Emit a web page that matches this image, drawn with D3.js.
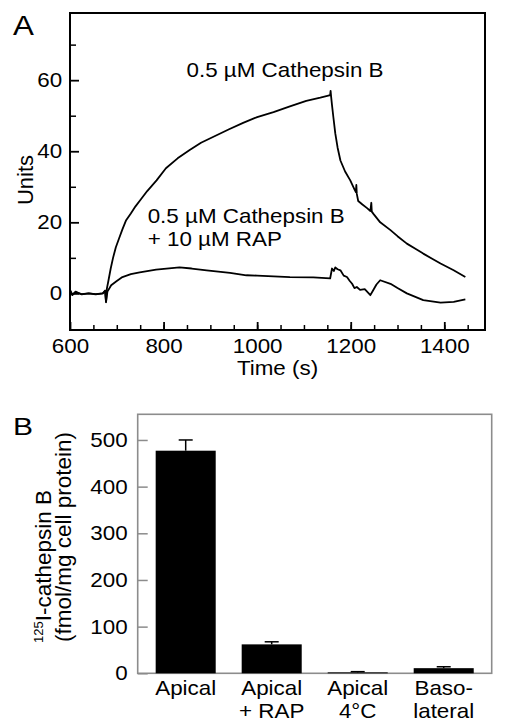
<!DOCTYPE html>
<html lang="en">
<head>
<meta charset="utf-8">
<title>Cathepsin B binding</title>
<style>
  body { margin: 0; background: #fff; }
  svg { display: block; font-family: "Liberation Sans", Arial, sans-serif; }
  .trace { fill: none; stroke: #000; stroke-width: 1.8px; stroke-linejoin: round; }
</style>
</head>
<body>
<svg width="508" height="721"></svg>
<script src="https://d3js.org/d3.v7.min.js"></script>
<script>

// panel A - sensor traces (time in s, response units)
var timeCath = [600, 605, 612, 625, 640, 655, 670, 675, 677, 679, 682, 687, 692, 698, 705, 712, 720, 730, 740, 750,
  765, 785, 805, 830, 855, 880, 910, 940, 970, 1000, 1035, 1070, 1105, 1135, 1150, 1156, 1157, 1158, 1160, 1163,
  1167, 1172, 1178, 1188, 1199, 1208, 1211, 1212, 1213, 1216, 1225, 1235, 1242, 1244, 1245, 1249, 1263, 1285, 1300,
  1320, 1340, 1355, 1375, 1392, 1420, 1445];
var unitsCath = [1.0, -0.5, 0.5, -0.3, 0, -0.2, 0, 0.8, -2.5, 1.5, 3.5, 7, 10, 13, 15.5, 18, 20.6, 22.5, 24.5, 26.2,
  28.8, 31.8, 35.2, 38, 40.3, 42.4, 44.3, 46.2, 48, 49.6, 51, 52.6, 54.2, 55.1, 55.6, 55.8, 57, 55.5, 53, 49.5,
  45, 41, 37.4, 34.3, 31.8, 29.3, 28.5, 30.5, 28, 26, 25, 24, 23.2, 25.5, 23, 22.3, 20, 17.8, 16.1,
  14, 12.4, 11.2, 9.7, 8.4, 6.5, 4.6];

var timeRap = [600, 605, 612, 625, 640, 655, 670, 675, 677, 680, 688, 700, 712, 730, 749, 784, 834, 860, 892, 942,
  977, 1000, 1035, 1070, 1120, 1156, 1160, 1164, 1167, 1172, 1178, 1185, 1192, 1198, 1203, 1208, 1213, 1220, 1230,
  1242, 1248, 1255, 1263, 1285, 1300, 1320, 1355, 1392, 1420, 1445];
var unitsRap = [0.8, -0.3, 0.3, -0.2, 0, -0.3, 0, 0.6, -2.4, 0.5, 2.3, 3.5, 4.6, 5.4, 5.9, 6.7, 7.3, 7.0, 6.5, 5.8,
  5.1, 5.0, 4.8, 4.6, 4.5, 4.2, 7.0, 6.3, 7.3, 6.8, 6.5, 5.0, 4.6, 3.5, 2.7, 1.5, 1.8, 1.0, 1.2,
  -0.5, 0.9, 2.5, 3.7, 2.7, 1.5, 0, -1.9, -2.6, -2.4, -1.7];

var xTicksA = [600, 800, 1000, 1200, 1400];
var xMinorA = d3.range(650, 1451, 50);
var yTicksA = [0, 20, 40, 60];
var yMinorA = [10, 30, 50, 70];

var noteLines = [["0.5 µM Cathepsin B"], ["0.5 µM Cathepsin B", "+ 10 µM RAP"]];
var noteTime = [849, 766];
var noteUnits = [61, 19.8];

// panel B - uptake
var groupTop = ["Apical", "Apical", "Apical", "Baso-"];
var groupBottom = ["", "+ RAP", "4°C", "lateral"];
var uptake = [477, 62, 2, 11];
var uptakeErr = [23, 5.5, 1.5, 3];
var yTicksB = [0, 100, 200, 300, 400, 500];

var svg = d3.select("svg");
var sx = 1.12;   // lettering in the figure is a bit wider than Arial

// ---------- A ----------
var xA = d3.scaleLinear().domain([600, 1487]).range([70, 485]),
    yA = d3.scaleLinear().domain([-10.3, 78.9]).range([330, 13]);

var gA = svg.append("g");

function styleAxis(g, size) {
  g.attr("font-family", null).attr("font-size", size);
  g.select(".domain").remove();
  g.selectAll("text").attr("fill", "#000");
}

gA.append("g")
    .attr("transform", "translate(0," + yA(-10.3) + ")")
    .call(d3.axisBottom(xA).tickValues(xMinorA).tickFormat("").tickSizeInner(-5).tickSizeOuter(0))
    .call(styleAxis, 20)
    .selectAll("line").attr("stroke", "#000").attr("stroke-width", 1.5);

gA.append("g")
    .attr("transform", "translate(0," + yA(-10.3) + ")")
    .call(d3.axisBottom(xA).tickValues(xTicksA).tickFormat(d3.format("d")).tickSizeInner(-8).tickSizeOuter(0).tickPadding(9))
    .call(styleAxis, 20)
    .call(function(g) {
      g.selectAll("line").attr("stroke", "#000").attr("stroke-width", 1.8);
      g.selectAll("text").attr("transform", "scale(" + sx + ",1)");
    });

gA.append("g")
    .attr("transform", "translate(" + xA(600) + ",0)")
    .call(d3.axisLeft(yA).tickValues(yMinorA).tickFormat("").tickSizeInner(-6).tickSizeOuter(0))
    .call(styleAxis, 20)
    .selectAll("line").attr("stroke", "#000").attr("stroke-width", 1.5);

gA.append("g")
    .attr("transform", "translate(" + xA(600) + ",0)")
    .call(d3.axisLeft(yA).tickValues(yTicksA).tickSizeInner(-9).tickSizeOuter(0).tickPadding(7))
    .call(styleAxis, 20)
    .call(function(g) {
      g.selectAll("line").attr("stroke", "#000").attr("stroke-width", 1.8);
      g.selectAll("text").attr("transform", "scale(" + sx + ",1)");
    });

gA.append("rect")
    .attr("x", xA(600)).attr("y", yA(78.9))
    .attr("width", xA(1487) - xA(600)).attr("height", yA(-10.3) - yA(78.9))
    .attr("fill", "none").attr("stroke", "#000").attr("stroke-width", 2);

var line = d3.line()
    .x(function(d) { return xA(d[0]); })
    .y(function(d) { return yA(d[1]); });

gA.append("path").attr("class", "trace").attr("d", line(d3.zip(timeRap, unitsRap)));
gA.append("path").attr("class", "trace").attr("d", line(d3.zip(timeCath, unitsCath)));

var notes = gA.selectAll(".note")
  .data(noteLines)
  .enter().append("text")
    .attr("class", "note")
    .attr("font-size", 20)
    .attr("transform", function(d, i) {
      return "translate(" + xA(noteTime[i]) + "," + yA(noteUnits[i]) + ") scale(" + sx + ",1)";
    });
notes.selectAll("tspan")
  .data(function(d) { return d; })
  .enter().append("tspan")
    .attr("x", 0)
    .attr("y", function(d, i) { return i * 22.5; })
    .text(function(d) { return d; });

gA.append("text")
    .attr("transform", "translate(33,180) rotate(-90)")
    .attr("text-anchor", "middle")
    .attr("font-size", 22)
    .text("Units");

gA.append("text")
    .attr("transform", "translate(" + (xA(600) + xA(1487)) / 2 + ",375) scale(" + sx + ",1)")
    .attr("text-anchor", "middle")
    .attr("font-size", 20)
    .text("Time (s)");

svg.append("text")
    .attr("transform", "translate(13,35) scale(" + sx + ",1)")
    .attr("font-size", 28)
    .text("A");

// ---------- B ----------
var xB = d3.scaleBand().domain(d3.range(uptake.length)).range([137.7, 491.7]).paddingInner(0.302).paddingOuter(0.209),
    yB = d3.scaleLinear().domain([0, 555]).range([673.3, 414.3]);

var gB = svg.append("g");

gB.append("rect")
    .attr("x", 137.7).attr("y", yB(555))
    .attr("width", 491.7 - 137.7).attr("height", yB(0) - yB(555))
    .attr("fill", "none").attr("stroke", "#8c8c8c").attr("stroke-width", 1.6);

gB.append("g")
    .attr("transform", "translate(137.7,0)")
    .call(d3.axisLeft(yB).tickValues(yTicksB).tickSizeInner(-10).tickSizeOuter(0).tickPadding(9))
    .call(styleAxis, 20)
    .call(function(g) {
      g.selectAll("line").attr("stroke", "#8c8c8c").attr("stroke-width", 1.5);
      g.selectAll("text").attr("transform", "scale(" + sx + ",1)");
    });

gB.selectAll(".bar")
  .data(uptake)
  .enter().append("rect")
    .attr("class", "bar")
    .attr("x", function(d, i) { return xB(i); })
    .attr("y", function(d) { return yB(d); })
    .attr("width", xB.bandwidth())
    .attr("height", function(d) { return yB(0) - yB(d); })
    .attr("fill", "#000");

var err = gB.selectAll(".err")
  .data(uptake)
  .enter().append("g")
    .attr("class", "err")
    .attr("transform", function(d, i) { return "translate(" + (xB(i) + xB.bandwidth() / 2) + ",0)"; })
    .attr("stroke", "#000").attr("stroke-width", 1.5);
err.append("line")
    .attr("y1", function(d) { return yB(d); })
    .attr("y2", function(d, i) { return yB(d + uptakeErr[i]); });
err.append("line")
    .attr("x1", -7).attr("x2", 7)
    .attr("y1", function(d, i) { return yB(d + uptakeErr[i]); })
    .attr("y2", function(d, i) { return yB(d + uptakeErr[i]); });

var cat = gB.selectAll(".cat")
  .data(groupTop)
  .enter().append("text")
    .attr("class", "cat")
    .attr("font-size", 20)
    .attr("text-anchor", "middle")
    .attr("transform", function(d, i) {
      return "translate(" + (xB(i) + xB.bandwidth() / 2) + "," + yB(0) + ") scale(" + sx + ",1)";
    });
cat.append("tspan").attr("x", 0).attr("y", 22).text(function(d) { return d; });
cat.append("tspan").attr("x", 0).attr("y", 45).text(function(d, i) { return groupBottom[i]; });

var ylab = gB.append("text")
    .attr("transform", "translate(51,643) rotate(-90)")
    .attr("font-size", 22.5);
ylab.append("tspan").attr("font-size", 13).attr("dy", -8).text("125");
ylab.append("tspan").attr("dy", 8).text("I-cathepsin B");

gB.append("text")
    .attr("transform", "translate(71,642) rotate(-90)")
    .attr("font-size", 22.5)
    .text("(fmol/mg cell protein)");

svg.append("text")
    .attr("transform", "translate(13,435) scale(1.25,1)")
    .attr("font-size", 24)
    .text("B");

</script>
</body>
</html>
